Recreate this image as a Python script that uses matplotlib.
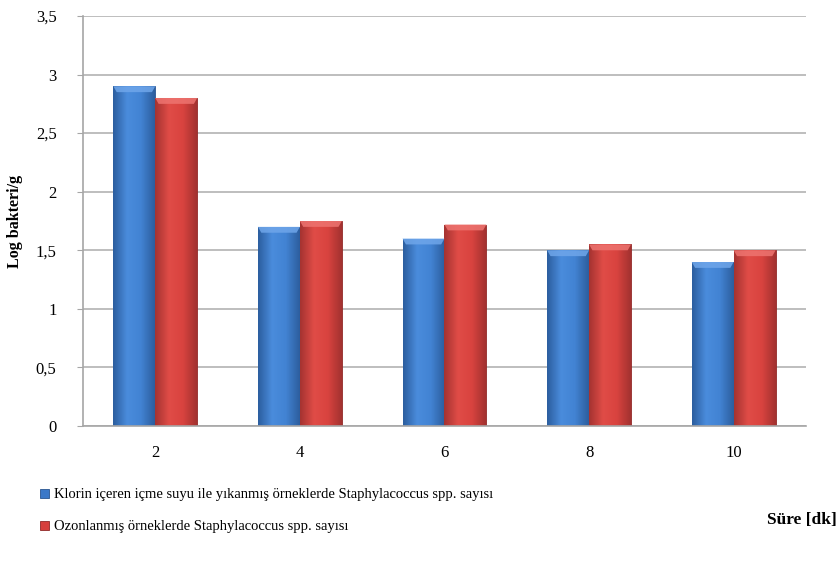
import numpy as np
import matplotlib.pyplot as plt
from matplotlib.colors import LinearSegmentedColormap
from matplotlib.patches import Polygon

plt.rcParams['font.family'] = ['Liberation Serif', 'DejaVu Serif']

# Süre (dk) ve log bakteri/g değerleri
sureler = ['2', '4', '6', '8', '10']
klorin = [2.9, 1.7, 1.6, 1.5, 1.4]
ozon = [2.8, 1.75, 1.72, 1.55, 1.5]
etiketler = ['Klorin içeren içme suyu ile yıkanmış örneklerde Staphylacoccus spp. sayısı',
             'Ozonlanmış örneklerde Staphylacoccus spp. sayısı']
yticks = [0, 0.5, 1, 1.5, 2, 2.5, 3, 3.5]
ytick_labels = ['0', '0,5', '1', '1,5', '2', '2,5', '3', '3,5']

fig = plt.figure(figsize=(8.4, 5.69), dpi=100)
ax = fig.add_axes([0.0988, 0.2513, 0.8607, 0.7206])

x = np.arange(len(sureler))
w = 0.29

renkler = [
    ('#3b78c8', ['#2c5e9f', '#4a8cdc', '#4283d3', '#2d5e9e']),
    ('#d63f3c', ['#a53331', '#e04c47', '#d9433f', '#a33230']),
]

def gradyan_cubuk(ax, bars, stops, ust_renk):
    cmap = LinearSegmentedColormap.from_list('g', stops)
    grad = np.linspace(0, 1, 64).reshape(1, -1)
    for b in bars:
        x0, y0 = b.get_x(), b.get_y()
        bw, bh = b.get_width(), b.get_height()
        im = ax.imshow(grad, cmap=cmap, aspect='auto', extent=(x0, x0 + bw, y0, y0 + bh),
                       zorder=2.1, interpolation='bicubic')
        im.set_clip_path(b)
        # üst kenardaki eğim
        d = 0.05
        dx = bw * 0.08
        ust = Polygon([(x0, y0 + bh), (x0 + bw, y0 + bh), (x0 + bw - dx, y0 + bh - d),
                       (x0 + dx, y0 + bh - d)], closed=True, facecolor=ust_renk,
                      edgecolor='none', zorder=2.2, alpha=0.85)
        ax.add_patch(ust)

b1 = ax.bar(x - w / 2, klorin, w, color=renkler[0][0], edgecolor='#2a5590', linewidth=0.6,
            zorder=2, label=etiketler[0])
b2 = ax.bar(x + w / 2, ozon, w, color=renkler[1][0], edgecolor='#8f2a28', linewidth=0.6,
            zorder=2, label=etiketler[1])
gradyan_cubuk(ax, b1, renkler[0][1], '#6fa6ea')
gradyan_cubuk(ax, b2, renkler[1][1], '#ee7470')

ax.set_xlim(-0.5, 4.5)
ax.set_ylim(0, 3.5)
ax.set_yticks(yticks)
ax.set_yticklabels(ytick_labels)
ax.set_xticks(x)
ax.set_xticklabels(sureler)
ax.yaxis.grid(True, color='#b3b3b3', linewidth=1.2, zorder=0)
ax.set_axisbelow(True)
for s in ['top', 'right']:
    ax.spines[s].set_visible(False)
ax.spines['left'].set_color('#a6a6a6')
ax.spines['bottom'].set_color('#a6a6a6')
ax.spines['left'].set_linewidth(1.2)
ax.spines['bottom'].set_linewidth(1.2)
ax.tick_params(axis='y', length=4, color='#a6a6a6', labelsize=12, pad=15)
ax.tick_params(axis='x', length=0, labelsize=12, pad=14)

ax.set_ylabel('Log bakteri/g', fontsize=11.5, fontweight='bold', labelpad=9)
fig.text(0.996, 0.086, 'Süre [dk]', ha='right', va='center', fontsize=12.5,
         fontweight='bold')

fig.legend(handles=[b1, b2], labels=etiketler, loc='upper left',
           bbox_to_anchor=(0.041, 0.152), frameon=False, fontsize=10.5,
           handlelength=0.6, handleheight=0.6, handletextpad=0.35,
           labelspacing=1.3, borderaxespad=0)

fig.savefig('out.png', dpi=100)
